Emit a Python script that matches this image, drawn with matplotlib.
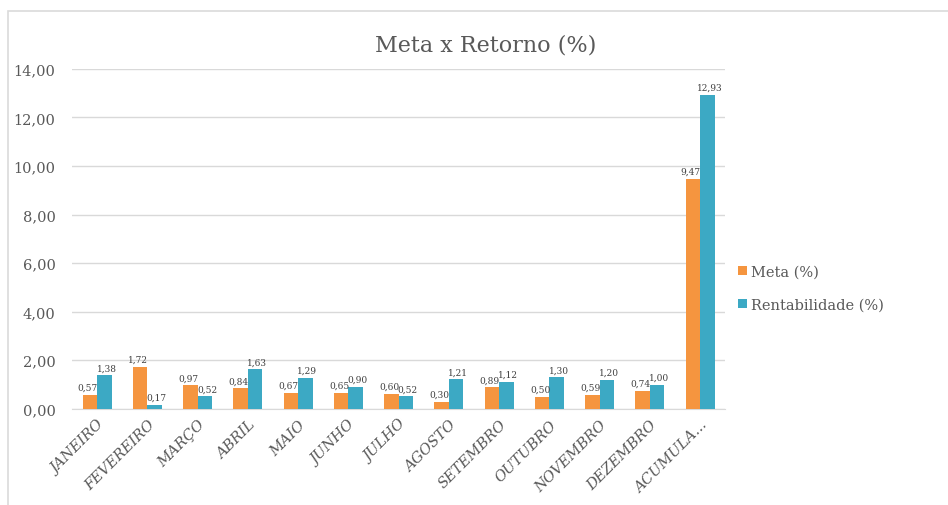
import matplotlib
matplotlib.use("Agg")
import matplotlib.pyplot as plt
import numpy as np
from matplotlib.patches import Rectangle

months = ["JANEIRO", "FEVEREIRO", "MARÇO", "ABRIL", "MAIO", "JUNHO", "JULHO",
          "AGOSTO", "SETEMBRO", "OUTUBRO", "NOVEMBRO", "DEZEMBRO", "ACUMULA..."]
meta = [0.57, 1.72, 0.97, 0.84, 0.67, 0.65, 0.62, 0.30, 0.89, 0.50, 0.59, 0.74, 9.47]
rentab = [1.38, 0.17, 0.52, 1.63, 1.29, 0.90, 0.52, 1.21, 1.12, 1.30, 1.20, 1.00, 12.93]
meta_labels = ["0,57", "1,72", "0,97", "0,84", "0,67", "0,65", "0,60", "0,30",
               "0,89", "0,50", "0,59", "0,74", "9,47"]

orange = "#F5953F"
teal = "#3CA9C4"
txt = "#595959"
font = "DejaVu Serif"

def fmt(v):
    return f"{v:.2f}".replace(".", ",")

fig = plt.figure(figsize=(9.48, 5.06), dpi=100)
fig.patches.append(Rectangle((8 / 948, -0.01), 1.0, 1 - 12 / 506 + 0.01,
                             transform=fig.transFigure, fill=False,
                             edgecolor="#DADADA", linewidth=1.2))

ax = fig.add_axes([0.076, 0.19, 0.689, 0.672])
x = np.arange(len(months))
w = 0.29
ax.bar(x - w / 2, meta, w, color=orange, label="Meta (%)", zorder=3)
ax.bar(x + w / 2, rentab, w, color=teal, label="Rentabilidade (%)", zorder=3)

# data labels (they crowd each other a bit in the original too)
for i in range(len(months)):
    ax.text(x[i] - w / 2 - 0.04, meta[i] + 0.12, meta_labels[i], ha="center",
            va="bottom", fontsize=6.5, color="#404040", family=font)
    ax.text(x[i] + w / 2 + 0.04, rentab[i] + 0.12, fmt(rentab[i]), ha="center",
            va="bottom", fontsize=6.5, color="#404040", family=font)

ax.set_xlim(-0.5, len(months) - 0.5)
ax.set_ylim(0, 14)
ax.set_yticks(np.arange(0, 15, 2))
ax.set_yticklabels([fmt(v) for v in np.arange(0, 15, 2)], family=font,
                   fontsize=10.5, color=txt)
ax.set_xticks(x)
ax.set_xticklabels(months, rotation=45, ha="right", rotation_mode="anchor",
                   family=font, fontsize=10.5, color=txt, style="italic")
ax.tick_params(axis="both", length=0, pad=6)
ax.tick_params(axis="y", pad=12)
ax.grid(axis="y", color="#D9D9D9", linewidth=1, zorder=0)
for s in ["top", "right", "left"]:
    ax.spines[s].set_visible(False)
ax.spines["bottom"].set_color("#D9D9D9")

fig.text(0.512, 0.91, "Meta x Retorno (%)", ha="center", va="center",
         family=font, fontsize=16, color=txt)

ax.legend(loc="center left", bbox_to_anchor=(1.0, 0.355), frameon=False,
          prop={"family": font, "size": 10.5}, labelcolor=txt,
          handlelength=0.6, handleheight=0.6, handletextpad=0.3,
          labelspacing=1.3)

fig.savefig("out.png", dpi=100, facecolor="white")
